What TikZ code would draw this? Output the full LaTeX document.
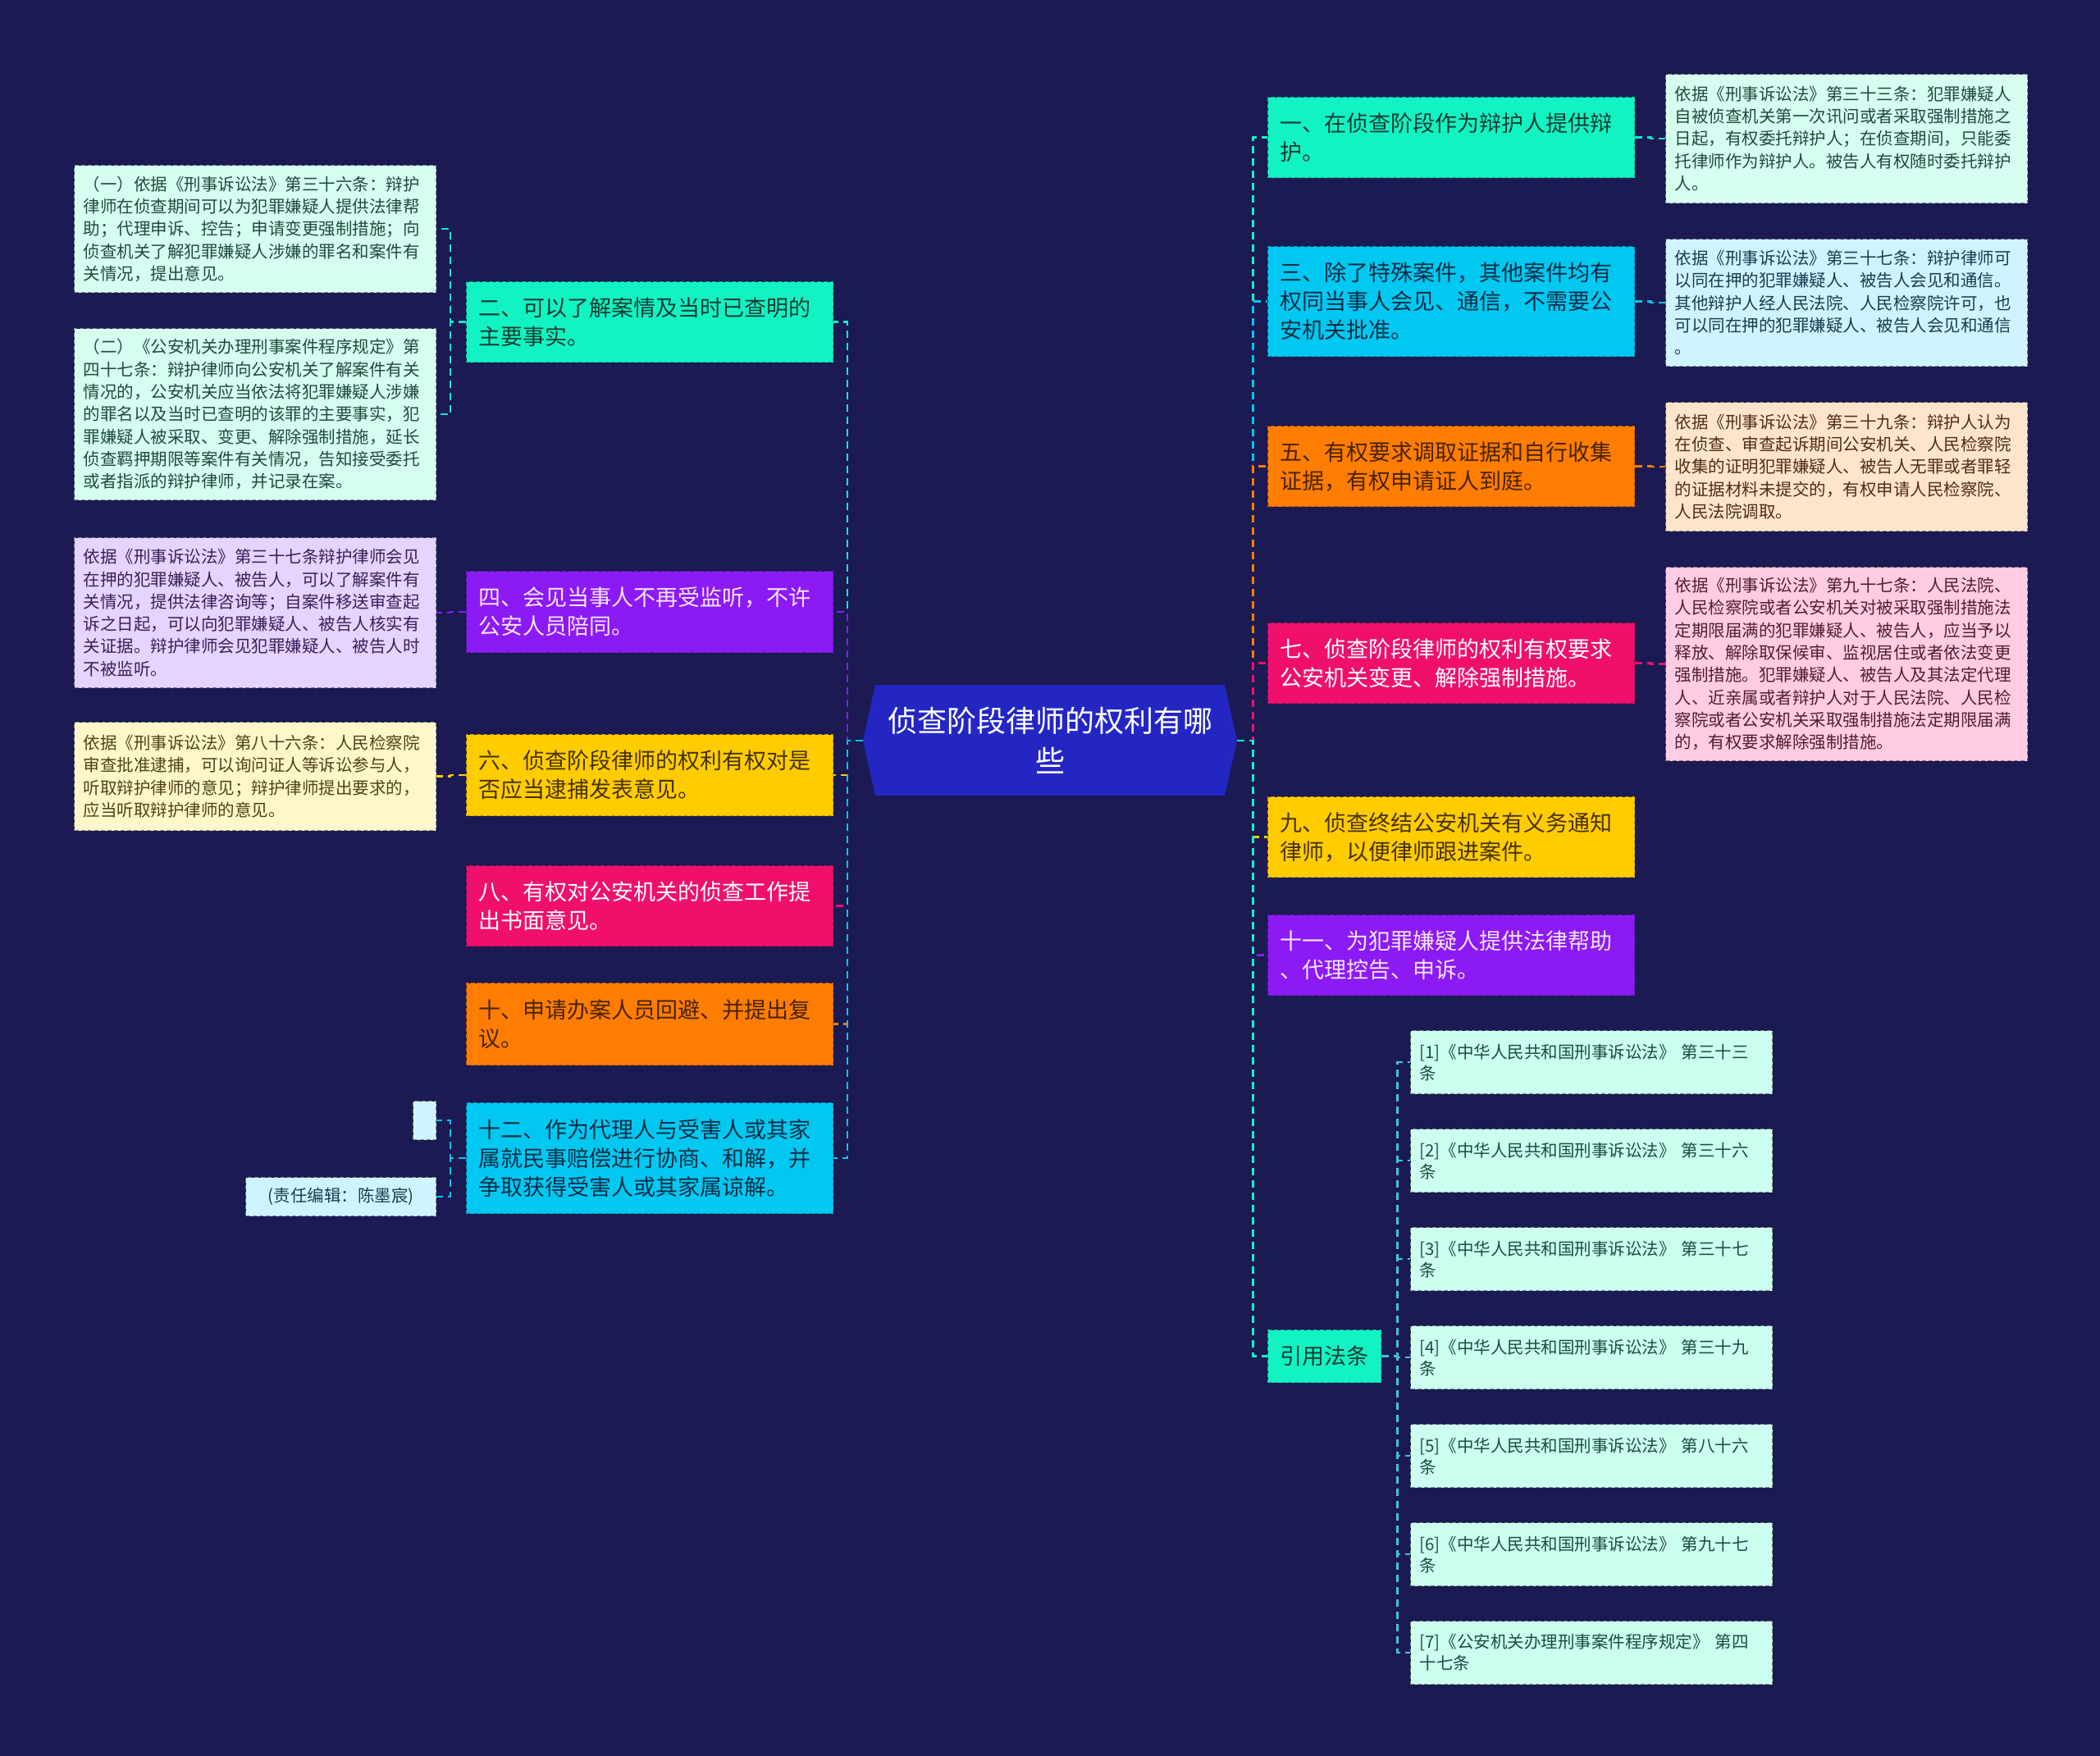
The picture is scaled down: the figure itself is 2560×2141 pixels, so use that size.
\documentclass[tikz,border=0pt]{standalone}
\usepackage{fontspec}
\setmainfont{Noto Sans CJK SC}
\usetikzlibrary{calc}
\definecolor{bgc}{RGB}{27,26,82}
\definecolor{rootc}{RGB}{36,38,196}
\definecolor{aqua}{RGB}{18,243,196}
\definecolor{cyanb}{RGB}{0,200,240}
\definecolor{orangeb}{RGB}{255,125,0}
\definecolor{pinkb}{RGB}{240,16,108}
\definecolor{yellowb}{RGB}{255,204,0}
\definecolor{purpleb}{RGB}{140,26,245}
\definecolor{aqual}{RGB}{214,255,240}
\definecolor{cyanl}{RGB}{208,244,255}
\definecolor{orangel}{RGB}{255,228,204}
\definecolor{pinkl}{RGB}{255,204,228}
\definecolor{purplel}{RGB}{228,212,255}
\definecolor{yellowl}{RGB}{255,247,204}
\definecolor{refl}{RGB}{204,255,240}
\definecolor{reflink}{RGB}{64,196,216}
\definecolor{aquat}{RGB}{20,60,50}
\definecolor{cyant}{RGB}{10,45,70}
\definecolor{oranget}{RGB}{70,35,0}
\definecolor{yellowt}{RGB}{70,50,0}
\definecolor{purplet}{RGB}{245,230,255}
\definecolor{aqualt}{RGB}{30,75,65}
\definecolor{cyanlt}{RGB}{25,60,80}
\definecolor{orangelt}{RGB}{80,45,20}
\definecolor{pinklt}{RGB}{80,30,50}
\definecolor{purplelt}{RGB}{60,30,90}
\definecolor{yellowlt}{RGB}{80,65,25}
\tikzset{
  bbox/.style={anchor=north west, rectangle, align=left, inner ysep=0pt, line width=1.2pt, dash pattern=on 5pt off 3pt},
  branch/.style={bbox, inner xsep=15pt, font=\fontsize{27}{35}\selectfont, minimum width=447pt, text width=417pt},
  leaf/.style={bbox, inner xsep=11pt, font=\fontsize{20.5}{27.3}\selectfont, minimum width=441pt, text width=419pt},
  reff/.style={bbox, inner xsep=11pt, font=\fontsize{20.5}{26}\selectfont, minimum width=441pt, text width=419pt, fill=refl, draw=refl!55!black, text=aqualt, minimum height=77pt},
  conn/.style={line width=2.6pt, dash pattern=on 9pt off 6pt},
}
\begin{document}
\begin{tikzpicture}[x=1pt,y=-1pt]
\fill[bgc] (0,0) rectangle (2560,2141);
\useasboundingbox (0,0) rectangle (2560,2141);

% root
\fill[rootc] (1052,903) -- (1067,835) -- (1493,835) -- (1508,903) -- (1493,970) -- (1067,970) -- cycle;
\node[font=\fontsize{36}{49}\selectfont, text=white, align=center, minimum width=456pt, minimum height=135pt, inner sep=0pt] (root) at (1280,903) {侦查阶段律师的权利有哪\\些};

% right branches
\node[branch, fill=aqua, draw=aqua!75!black, text=aquat, minimum height=98pt] (r1) at (1545,118) {一、在侦查阶段作为辩护人提供辩\\护。};
\node[branch, fill=cyanb, draw=cyanb!75!black, text=cyant, minimum height=134pt] (r3) at (1545,300) {三、除了特殊案件，其他案件均有\\权同当事人会见、通信，不需要公\\安机关批准。};
\node[branch, fill=orangeb, draw=orangeb!75!black, text=oranget, minimum height=98pt] (r5) at (1545,519) {五、有权要求调取证据和自行收集\\证据，有权申请证人到庭。};
\node[branch, fill=pinkb, draw=pinkb!75!black, text=white, minimum height=98pt] (r7) at (1545,759) {七、侦查阶段律师的权利有权要求\\公安机关变更、解除强制措施。};
\node[branch, fill=yellowb, draw=yellowb!75!black, text=yellowt, minimum height=98pt] (r9) at (1545,971) {九、侦查终结公安机关有义务通知\\律师，以便律师跟进案件。};
\node[branch, fill=purpleb, draw=purpleb!75!black, text=purplet, minimum height=98pt] (r11) at (1545,1115) {十一、为犯罪嫌疑人提供法律帮助\\、代理控告、申诉。};
\node[bbox, inner xsep=15pt, font=\fontsize{27}{35}\selectfont, fill=aqua, draw=aqua!75!black, text=aquat, minimum width=137pt, minimum height=64pt] (ry) at (1545,1621) {引用法条};

% right leaves
\node[leaf, fill=aqual, draw=aqual!55!black, text=aqualt, minimum height=157pt] (ra) at (2030,90) {依据《刑事诉讼法》第三十三条：犯罪嫌疑人\\自被侦查机关第一次讯问或者采取强制措施之\\日起，有权委托辩护人；在侦查期间，只能委\\托律师作为辩护人。被告人有权随时委托辩护\\人。};
\node[leaf, fill=cyanl, draw=cyanl!55!black, text=cyanlt, minimum height=155pt] (rb) at (2030,291) {依据《刑事诉讼法》第三十七条：辩护律师可\\以同在押的犯罪嫌疑人、被告人会见和通信。\\其他辩护人经人民法院、人民检察院许可，也\\可以同在押的犯罪嫌疑人、被告人会见和通信\\。};
\node[leaf, fill=orangel, draw=orangel!55!black, text=orangelt, minimum height=157pt] (rc) at (2030,490) {依据《刑事诉讼法》第三十九条：辩护人认为\\在侦查、审查起诉期间公安机关、人民检察院\\收集的证明犯罪嫌疑人、被告人无罪或者罪轻\\的证据材料未提交的，有权申请人民检察院、\\人民法院调取。};
\node[leaf, fill=pinkl, draw=pinkl!55!black, text=pinklt, minimum height=236pt] (rd) at (2030,691) {依据《刑事诉讼法》第九十七条：人民法院、\\人民检察院或者公安机关对被采取强制措施法\\定期限届满的犯罪嫌疑人、被告人，应当予以\\释放、解除取保候审、监视居住或者依法变更\\强制措施。犯罪嫌疑人、被告人及其法定代理\\人、近亲属或者辩护人对于人民法院、人民检\\察院或者公安机关采取强制措施法定期限届满\\的，有权要求解除强制措施。};

% refs
\node[reff] (f1) at (1719,1256) {[1]《中华人民共和国刑事诉讼法》 第三十三\\条};
\node[reff] (f2) at (1719,1376) {[2]《中华人民共和国刑事诉讼法》 第三十六\\条};
\node[reff] (f3) at (1719,1496) {[3]《中华人民共和国刑事诉讼法》 第三十七\\条};
\node[reff] (f4) at (1719,1616) {[4]《中华人民共和国刑事诉讼法》 第三十九\\条};
\node[reff] (f5) at (1719,1736) {[5]《中华人民共和国刑事诉讼法》 第八十六\\条};
\node[reff] (f6) at (1719,1856) {[6]《中华人民共和国刑事诉讼法》 第九十七\\条};
\node[reff] (f7) at (1719,1976) {[7]《公安机关办理刑事案件程序规定》 第四\\十七条};

% left branches
\node[branch, fill=aqua, draw=aqua!75!black, text=aquat, minimum height=98pt] (l2) at (568,343) {二、可以了解案情及当时已查明的\\主要事实。};
\node[branch, fill=purpleb, draw=purpleb!75!black, text=purplet, minimum height=99pt] (l4) at (568,696) {四、会见当事人不再受监听，不许\\公安人员陪同。};
\node[branch, fill=yellowb, draw=yellowb!75!black, text=yellowt, minimum height=99pt] (l6) at (568,895) {六、侦查阶段律师的权利有权对是\\否应当逮捕发表意见。};
\node[branch, fill=pinkb, draw=pinkb!75!black, text=white, minimum height=98pt] (l8) at (568,1055) {八、有权对公安机关的侦查工作提\\出书面意见。};
\node[branch, fill=orangeb, draw=orangeb!75!black, text=oranget, minimum height=100pt] (l10) at (568,1198) {十、申请办案人员回避、并提出复\\议。};
\node[branch, fill=cyanb, draw=cyanb!75!black, text=cyant, minimum height=135pt] (l12) at (568,1344) {十二、作为代理人与受害人或其家\\属就民事赔偿进行协商、和解，并\\争取获得受害人或其家属谅解。};

% left leaves
\node[leaf, fill=aqual, draw=aqual!55!black, text=aqualt, minimum height=155pt] (la) at (90,201) {（一）依据《刑事诉讼法》第三十六条：辩护\\律师在侦查期间可以为犯罪嫌疑人提供法律帮\\助；代理申诉、控告；申请变更强制措施；向\\侦查机关了解犯罪嫌疑人涉嫌的罪名和案件有\\关情况，提出意见。};
\node[leaf, fill=aqual, draw=aqual!55!black, text=aqualt, minimum height=209pt] (lb) at (90,400) {（二）《公安机关办理刑事案件程序规定》第\\四十七条：辩护律师向公安机关了解案件有关\\情况的，公安机关应当依法将犯罪嫌疑人涉嫌\\的罪名以及当时已查明的该罪的主要事实，犯\\罪嫌疑人被采取、变更、解除强制措施，延长\\侦查羁押期限等案件有关情况，告知接受委托\\或者指派的辩护律师，并记录在案。};
\node[leaf, fill=purplel, draw=purplel!55!black, text=purplelt, minimum height=183pt] (lc) at (90,655) {依据《刑事诉讼法》第三十七条辩护律师会见\\在押的犯罪嫌疑人、被告人，可以了解案件有\\关情况，提供法律咨询等；自案件移送审查起\\诉之日起，可以向犯罪嫌疑人、被告人核实有\\关证据。辩护律师会见犯罪嫌疑人、被告人时\\不被监听。};
\node[leaf, fill=yellowl, draw=yellowl!55!black, text=yellowlt, minimum height=132pt] (ld) at (90,880) {依据《刑事诉讼法》第八十六条：人民检察院\\审查批准逮捕，可以询问证人等诉讼参与人，\\听取辩护律师的意见；辩护律师提出要求的，\\应当听取辩护律师的意见。};
\node[bbox, fill=cyanl, draw=cyanl!55!black, minimum width=28pt, minimum height=47pt, inner xsep=0pt] (le) at (503,1342) {};
\node[bbox, fill=cyanl, draw=cyanl!55!black, text=cyanlt, font=\fontsize{20.5}{26}\selectfont, align=center, minimum width=232pt, minimum height=47pt, inner xsep=0pt] (lf) at (299,1435) {(责任编辑：陈墨宸)};

% root connectors, right
\draw[conn, aqua] (root.east) -- ++(19,0) |- (r1.west);
\draw[conn, cyanb] (root.east) -- ++(19,0) |- (r3.west);
\draw[conn, orangeb] (root.east) -- ++(19,0) |- (r5.west);
\draw[conn, pinkb] (root.east) -- ++(19,0) |- (r7.west);
\draw[conn, yellowb] (root.east) -- ++(19,0) |- (r9.west);
\draw[conn, purpleb] (root.east) -- ++(19,0) |- (r11.west);
\draw[conn, aqua] (root.east) -- ++(19,0) |- (ry.west);
% root connectors, left
\draw[conn, aqua] (root.west) -- ++(-19,0) |- (l2.east);
\draw[conn, purpleb] (root.west) -- ++(-19,0) |- (l4.east);
\draw[conn, yellowb] (root.west) -- ++(-19,0) |- (l6.east);
\draw[conn, pinkb] (root.west) -- ++(-19,0) |- (l8.east);
\draw[conn, orangeb] (root.west) -- ++(-19,0) |- (l10.east);
\draw[conn, cyanb] (root.west) -- ++(-19,0) |- (l12.east);

% leaf connectors
\draw[conn, aqua!80!cyanb] (r1.east) -- ++(19,0) |- (ra.west);
\draw[conn, cyanb] (r3.east) -- ++(19,0) |- (rb.west);
\draw[conn, orangeb] (r5.east) -- ++(19,0) |- (rc.west);
\draw[conn, pinkb] (r7.east) -- ++(19,0) |- (rd.west);
\draw[conn, aqua!80!cyanb] (l2.west) -- ++(-19,0) |- (la.east);
\draw[conn, aqua!80!cyanb] (l2.west) -- ++(-19,0) |- (lb.east);
\draw[conn, purpleb] (l4.west) -- ++(-19,0) |- (lc.east);
\draw[conn, yellowb] (l6.west) -- ++(-19,0) |- (ld.east);
\draw[conn, cyanb] (l12.west) -- ++(-19,0) |- (le.east);
\draw[conn, cyanb] (l12.west) -- ++(-19,0) |- (lf.east);
\foreach \k in {1,...,7}{
  \draw[conn, reflink] (ry.east) -- ++(19,0) |- (f\k.west);
}
\end{tikzpicture}
\end{document}
